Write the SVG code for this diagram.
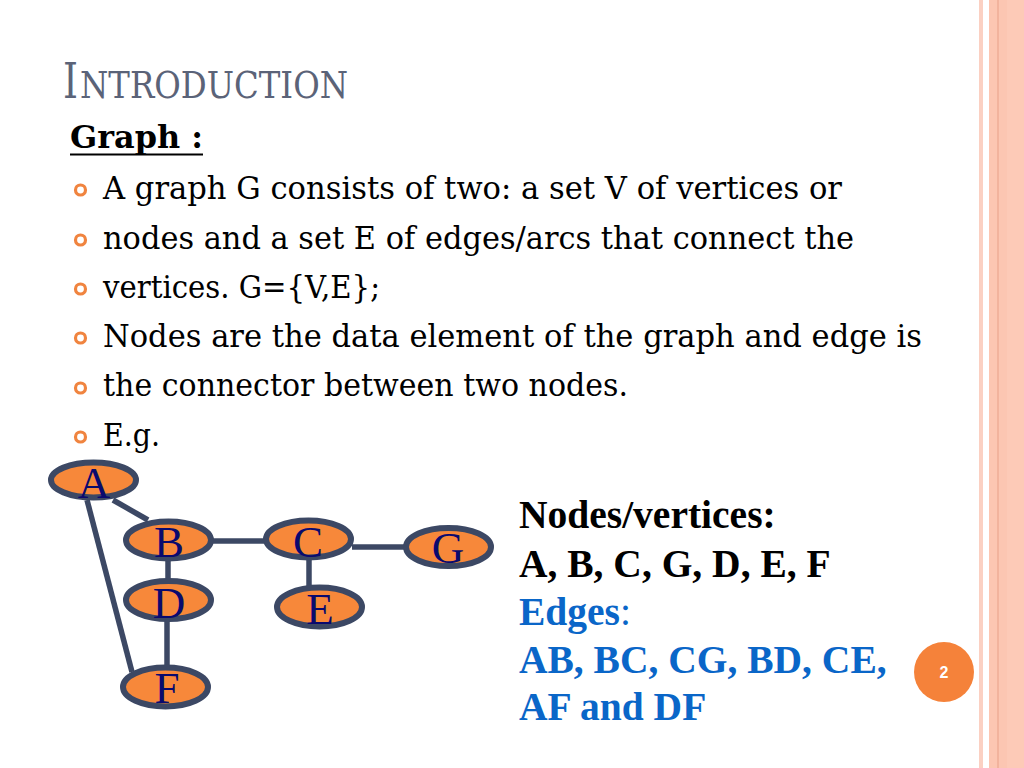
<svg xmlns="http://www.w3.org/2000/svg" width="1024" height="768" viewBox="0 0 1024 768">
<style>
.body{font-family:"DejaVu Serif","Liberation Serif",serif;font-size:31.5px;fill:#000}
.bul{fill:none;stroke:#f0843f;stroke-width:3.2}
.title{font-family:"DejaVu Serif","Liberation Serif",serif;fill:#5b6378}
.node ellipse{fill:#f7883a;stroke:#3c4864;stroke-width:6}
.node text{font-family:"Liberation Serif","Times New Roman",serif;font-size:45px;fill:#0a0a6e;text-anchor:middle}
.edge{stroke:#3c4864;stroke-width:5.5;fill:none}
.rt{font-family:"Liberation Serif","Times New Roman",serif;font-size:39.5px;font-weight:bold}
</style>
<rect x="0" y="0" width="1024" height="768" fill="#fff"/>
<g id="border">
<rect x="979" y="0" width="4" height="768" fill="#fbd0c2"/>
<rect x="989" y="0" width="35" height="768" fill="#fcc6b2"/>
<rect x="1007" y="0" width="17" height="768" fill="#fdcab7"/>
<line x1="998" y1="0" x2="998" y2="768" stroke="#e8a088" stroke-width="1"/>
</g>
<g id="title">
<text class="title" x="63" y="98" font-size="48" textLength="15" lengthAdjust="spacingAndGlyphs">I</text>
<text class="title" x="80" y="98" font-size="38" textLength="268" lengthAdjust="spacingAndGlyphs">NTRODUCTION</text>
</g>
<g id="heading">
<text class="body" x="70" y="148" font-weight="bold" textLength="133" lengthAdjust="spacingAndGlyphs">Graph :</text>
<line x1="70" y1="154.5" x2="203" y2="154.5" stroke="#000" stroke-width="2"/>
</g>
<g id="bullets">
<circle class="bul" cx="80.5" cy="190" r="5"/>
<circle class="bul" cx="80.5" cy="240" r="5"/>
<circle class="bul" cx="80.5" cy="289" r="5"/>
<circle class="bul" cx="80.5" cy="338" r="5"/>
<circle class="bul" cx="80.5" cy="388" r="5"/>
<circle class="bul" cx="80.5" cy="437" r="5"/>
<text class="body" x="103" y="199" textLength="739" lengthAdjust="spacingAndGlyphs">A graph G consists of two: a set V of vertices or</text>
<text class="body" x="103" y="249" textLength="751" lengthAdjust="spacingAndGlyphs">nodes and a set E of edges/arcs that connect the</text>
<text class="body" x="103" y="298" textLength="277" lengthAdjust="spacingAndGlyphs">vertices. G={V,E};</text>
<text class="body" x="103" y="347" textLength="819" lengthAdjust="spacingAndGlyphs">Nodes are the data element of the graph and edge is</text>
<text class="body" x="103" y="396" textLength="525" lengthAdjust="spacingAndGlyphs">the connector between two nodes.</text>
<text class="body" x="103" y="446" textLength="57" lengthAdjust="spacingAndGlyphs">E.g.</text>
</g>
<g id="connectors">
<line class="edge" x1="113" y1="500" x2="148" y2="520"/>
<line class="edge" x1="87" y1="500" x2="132" y2="672"/>
<line class="edge" x1="212" y1="541" x2="264" y2="541"/>
<line class="edge" x1="352" y1="547" x2="404" y2="547"/>
<line class="edge" x1="309" y1="558" x2="309" y2="588"/>
<line class="edge" x1="168" y1="558" x2="168" y2="580"/>
<line class="edge" x1="167" y1="620" x2="167" y2="668"/>
</g>
<g id="node-A" class="node"><ellipse cx="93.5" cy="480" rx="42.5" ry="17.5"/><text x="94" y="498">A</text></g>
<g id="node-B" class="node"><ellipse cx="168.5" cy="540" rx="42.5" ry="18.5"/><text x="169" y="557">B</text></g>
<g id="node-C" class="node"><ellipse cx="308.5" cy="539" rx="42.5" ry="18.5"/><text x="308" y="557">C</text></g>
<g id="node-G" class="node"><ellipse cx="448.5" cy="547" rx="42.5" ry="19"/><text x="448" y="563">G</text></g>
<g id="node-D" class="node"><ellipse cx="168.5" cy="600" rx="42.5" ry="19"/><text x="169" y="618">D</text></g>
<g id="node-E" class="node"><ellipse cx="319.5" cy="607" rx="42.5" ry="19.5"/><text x="320" y="624">E</text></g>
<g id="node-F" class="node"><ellipse cx="165.5" cy="687" rx="42.5" ry="19.5"/><text x="167" y="703">F</text></g>
<g id="legend">
<text class="rt" x="519" y="528" fill="#000">Nodes/vertices:</text>
<text class="rt" x="519" y="577" fill="#000">A, B, C, G, D, E, F</text>
<text class="rt" x="519" y="625" fill="#0a66c8">Edges<tspan font-weight="normal">:</tspan></text>
<text class="rt" x="519" y="673" fill="#0a66c8">AB, BC, CG, BD, CE,</text>
<text class="rt" x="519" y="720" fill="#0a66c8">AF and DF</text>
</g>
<g id="page-number">
<ellipse cx="944" cy="672" rx="30" ry="30" fill="#f5823a"/>
<text x="944" y="678" font-family="Liberation Sans,Arial,sans-serif" font-size="16" font-weight="bold" fill="#fff" text-anchor="middle">2</text>
</g>
</svg>
